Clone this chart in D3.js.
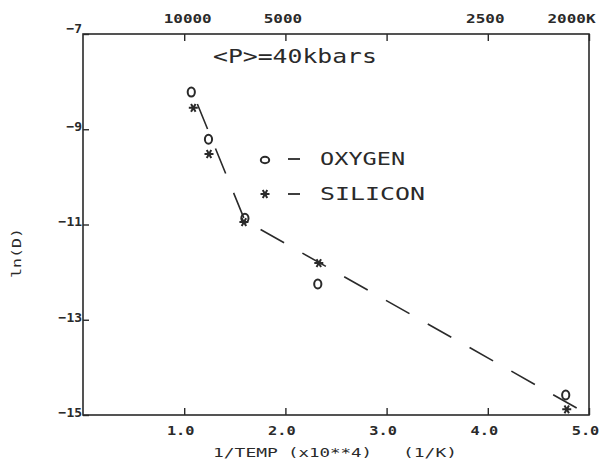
<!DOCTYPE html>
<html>
<head>
<meta charset="utf-8">
<script src="https://cdn.jsdelivr.net/npm/d3@7/dist/d3.min.js"></script>
<style>
  body { margin: 0; background: #fff; }
  text { font-family: "DejaVu Sans Mono", monospace; fill: #2a2a2a; }
</style>
</head>
<body>
<div id="chart"></div>
<script>
// data
var oxygenX = [1.07, 1.24, 1.60, 2.32, 4.77];
var oxygenY = [-8.22, -9.21, -10.87, -12.25, -14.58];
var siliconX = [1.09, 1.245, 1.59, 2.33, 4.78];
var siliconY = [-8.55, -9.52, -10.95, -11.81, -14.88];
// fitted curve (dashed)
var fitX = [1.13, 1.60, 5.0];
var fitY = [-8.47, -10.92, -15.0];

var bottomTicks = [1, 2, 3, 4, 5];
var topTicks = [1, 2, 3, 4, 5];
var topLabels = ["10000", "5000", "", "2500", "2000K"];
var yTicks = [-7, -9, -11, -13, -15];

var W = 604, H = 462;
var margin = {top: 34, right: 15, bottom: 47, left: 83},
    width = W - margin.left - margin.right,
    height = H - margin.top - margin.bottom;

var svg = d3.select("#chart").append("svg")
  .attr("width", W)
  .attr("height", H)
  .append("g")
  .attr("transform", "translate(" + margin.left + "," + margin.top + ")");

var x = d3.scaleLinear().domain([0, 5]).range([0, width]);
var y = d3.scaleLinear().domain([-15, -7]).range([height, 0]);

var ink = "#2a2a2a";

// stretch text like the old plotter font
function wide(sel, perChar) {
  sel.each(function() {
    var t = d3.select(this), s = t.text();
    if (s.length) t.attr("textLength", s.length * perChar).attr("lengthAdjust", "spacingAndGlyphs");
  });
}

// frame
svg.append("rect")
  .attr("width", width).attr("height", height)
  .attr("fill", "none").attr("stroke", ink).attr("stroke-width", 1.6);

// axes
var xAxis = d3.axisBottom(x).tickValues(bottomTicks).tickSize(-7).tickPadding(11)
  .tickFormat(d3.format(".1f"));
var gx = svg.append("g").attr("transform", "translate(0," + height + ")").call(xAxis);

var xTop = d3.axisTop(x).tickValues(topTicks).tickSize(-7).tickPadding(11)
  .tickFormat(function(d, i) { return topLabels[i]; });
var gt = svg.append("g").call(xTop);

var yAxis = d3.axisLeft(y).tickValues(yTicks).tickSize(-6).tickPadding(3)
  .tickFormat(d3.format("d"));
var gy = svg.append("g").call(yAxis);

[gx, gt, gy].forEach(function(g) {
  g.select(".domain").remove();
  g.selectAll("line").attr("stroke", ink).attr("stroke-width", 1.4);
  g.selectAll("text").style("font-size", "13px").attr("fill", ink)
    .style("font-family", "'DejaVu Sans Mono', monospace")
    .style("font-weight", "bold");
});
gx.selectAll("text").attr("dx", -4).call(wide, 9.2);
gt.selectAll("text").attr("dx", function(d, i) { return i == 0 ? 3 : i == 1 ? -3 : i == 3 ? -3 : -18; })
  .call(wide, 9.6);
gy.selectAll("text").attr("dy", function(d) { return d == -7 ? "-0.15em" : "0.1em"; })
  .attr("dx", "2").call(wide, 7.8);

// dashed fit line
var line = d3.line()
  .x(function(d) { return x(d[0]); })
  .y(function(d) { return y(d[1]); });

svg.append("path")
  .datum(d3.zip(fitX, fitY))
  .attr("d", line)
  .attr("fill", "none")
  .attr("stroke", ink)
  .attr("stroke-width", 1.6)
  .attr("stroke-dasharray", "27,21");

// asterisk shape
function star(r) {
  var p = "M" + (-r) + ",0L" + r + ",0";
  [60, 120].forEach(function(a) {
    var dx = r * Math.cos(a * Math.PI / 180), dy = r * Math.sin(a * Math.PI / 180);
    p += "M" + (-dx) + "," + (-dy) + "L" + dx + "," + dy;
  });
  return p;
}

// markers
svg.selectAll(".oxy").data(d3.zip(oxygenX, oxygenY)).enter()
  .append("ellipse")
  .attr("class", "oxy")
  .attr("cx", function(d) { return x(d[0]); })
  .attr("cy", function(d) { return y(d[1]); })
  .attr("rx", 3.6).attr("ry", 4.5)
  .attr("fill", "none").attr("stroke", ink).attr("stroke-width", 2);

svg.selectAll(".sil").data(d3.zip(siliconX, siliconY)).enter()
  .append("path")
  .attr("class", "sil")
  .attr("transform", function(d) { return "translate(" + x(d[0]) + "," + y(d[1]) + ")"; })
  .attr("d", star(4.5))
  .attr("stroke", ink).attr("stroke-width", 2).attr("fill", "none");

// title
svg.append("text")
  .attr("x", 130).attr("y", 29)
  .style("font-size", "19px")
  .text("<P>=40kbars")
  .call(wide, 14.9);

// legend
var lg = svg.append("g").attr("transform", "translate(178,131)");
lg.append("ellipse").attr("cx", 4).attr("cy", -5).attr("rx", 4.2).attr("ry", 3.2)
  .attr("fill", "none").attr("stroke", ink).attr("stroke-width", 2);
lg.append("line").attr("x1", 27).attr("x2", 39).attr("y1", -6).attr("y2", -6)
  .attr("stroke", ink).attr("stroke-width", 1.8);
lg.append("text").attr("x", 59).attr("y", 0).style("font-size", "17px")
  .text("OXYGEN").call(wide, 14.2);
lg.append("path").attr("transform", "translate(4,29)").attr("d", star(4.5))
  .attr("stroke", ink).attr("stroke-width", 2).attr("fill", "none");
lg.append("line").attr("x1", 27).attr("x2", 39).attr("y1", 29).attr("y2", 29)
  .attr("stroke", ink).attr("stroke-width", 1.8);
lg.append("text").attr("x", 59).attr("y", 35).style("font-size", "17px")
  .text("SILICON").call(wide, 15);

// axis titles
var xt = svg.append("g").attr("transform", "translate(0," + (height + 42) + ")")
  .style("font-size", "13px");
xt.append("text").attr("x", 130).text("1/TEMP").call(wide, 10.8);
xt.append("text").attr("x", 205).text("(x10**4)").call(wide, 10.5);
xt.append("text").attr("x", 320).text("(1/K)").call(wide, 10.8);

svg.append("text")
  .attr("transform", "translate(-62," + 219 + ") rotate(-90)")
  .attr("text-anchor", "middle")
  .style("font-size", "13px")
  .text("ln(D)")
  .call(wide, 10);
</script>
</body>
</html>
